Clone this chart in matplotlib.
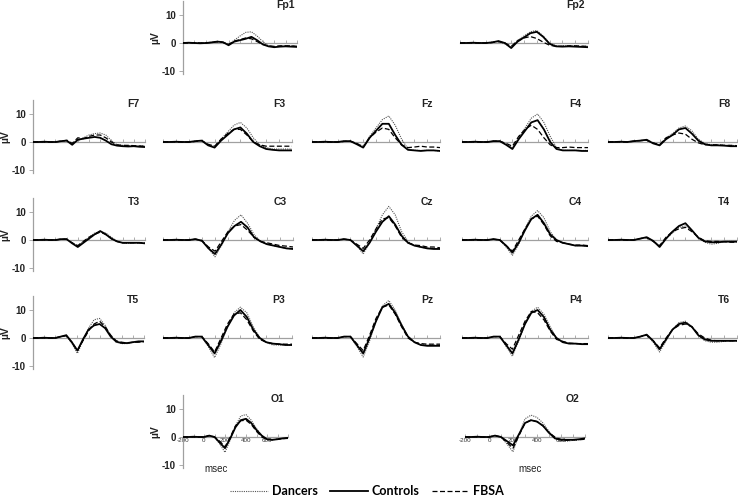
import numpy as np
import matplotlib.pyplot as plt
from matplotlib.lines import Line2D

plt.rcParams['font.family'] = ['Liberation Sans', 'DejaVu Sans']

# time axis (msec)
t = [-200, -150, -100, -50, 0, 50, 100, 150, 200, 250, 300,
     350, 400, 450, 500, 550, 600, 650, 700, 750, 800]

# ERP amplitudes (uV): dancers / controls / FBSA
fp1_dan = [0, 0.1, -0.1, 0.1, 0, 0.3, 0.5, 0.3, -0.5, 1, 2.5, 3.8, 4, 2.5, 0.5, -1, -1.3, -1.2, -1, -1, -1.2]
fp1_con = [0, 0.1, 0, -0.1, 0, 0.2, 0.5, 0.3, -0.8, 0.5, 1, 1.5, 2.2, 1, -0.5, -1.2, -1.5, -1.3, -1.2, -1.3, -1.4]
fp1_fb = [0, 0, 0.1, 0, 0, 0.2, 0.4, 0.2, -0.5, 0.7, 1.2, 1.8, 1.5, 0.5, -0.5, -1, -1.2, -1, -1, -1, -1.2]

fp2_dan = [0, 0.1, 0, 0.1, 0, 0.3, 0.5, -0.3, -1.5, 1, 2.5, 4, 4.5, 2.5, 0, -1, -1, -1, -1, -1.2, -1.2]
fp2_con = [0, 0, 0.1, 0, 0, 0.2, 0.7, 0, -1.8, 0.5, 2, 3.5, 4, 2.2, -0.3, -1.2, -1.3, -1.2, -1.3, -1.4, -1.5]
fp2_fb = [0, 0.1, 0, 0, 0, 0.2, 0.5, 0, -1.2, 0.8, 1.8, 2.3, 1.6, 0.3, -0.8, -1.2, -1.2, -1, -1, -1.1, -1.2]

f7_dan = [0, 0.1, 0, 0.1, 0, 0.3, 0.5, -0.3, 0.5, 1.5, 2.5, 3, 3.2, 2.5, 0.5, -1, -1.2, -1.3, -1.3, -1.4, -1.5]
f7_con = [0, 0, 0.1, 0, 0, 0.3, 0.5, -1, 0.8, 1.2, 1.5, 1.8, 1.5, 0.5, -0.8, -1.3, -1.5, -1.6, -1.5, -1.7, -1.8]
f7_fb = [0, 0.1, 0, 0, 0, 0.3, 0.6, -0.5, 1.5, 1.2, 2, 2.5, 2.5, 1.5, 0, -1, -1.2, -1.2, -1.3, -1.4, -1.5]

f3_dan = [0, 0.1, 0, 0.1, 0, 0.3, 0.5, -1, -1.5, 1, 3.5, 6, 7, 5, 1.5, -1, -2, -2.5, -2.5, -2.5, -2.5]
f3_con = [0, 0, 0.1, 0, 0, 0.3, 0.5, -1.2, -2, 0.5, 2.5, 4.5, 5.2, 3, 0, -1.5, -2.5, -2.8, -3, -3, -3]
f3_fb = [0, 0.1, 0, 0, 0, 0.2, 0.5, -0.8, -1.5, 1, 3, 4.5, 4.5, 2.5, 0, -1, -1.5, -1.5, -1.5, -1.5, -1.5]

fz_dan = [0, 0.1, -0.1, 0.1, 0, 0.3, 0.3, -0.5, -1.5, 2, 5, 8, 9.3, 6, 1, -2.5, -3, -3, -3, -3, -3.2]
fz_con = [0, 0, 0.1, 0, 0, 0.3, 0.3, -0.8, -2, 1.5, 4, 6.5, 6.5, 2.5, -1, -2.8, -3, -3.2, -3, -3, -3.2]
fz_fb = [0, 0.1, 0, 0, 0, 0.2, 0.3, -0.5, -1.8, 1.5, 3.5, 5, 4.5, 1.5, -1, -2, -1.8, -1.5, -1.8, -1.8, -2]

f4_dan = [0, 0.1, 0, 0.1, 0, 0.3, 0.3, -0.8, -2, 1.5, 5, 8.5, 10, 7, 2, -2, -3, -3, -3, -3, -3]
f4_con = [0, 0, 0.1, 0, 0, 0.3, 0.3, -1, -2.5, 1, 4, 7, 7.8, 4.5, 0, -2.5, -3, -3, -3, -3.2, -3.2]
f4_fb = [0, 0.1, 0, 0, 0, 0.3, 0.3, -0.5, -1.5, 2, 4.5, 6, 4.5, 1.5, -1, -2, -2, -1.8, -2, -2, -2]

f8_dan = [0, 0.1, 0, 0.1, 0.3, 0.5, 0.8, -0.3, -1, 1.5, 3, 5, 5.7, 4, 1, -0.5, -1, -1, -1.2, -1.2, -1.3]
f8_con = [0, 0, 0.1, 0, 0.3, 0.5, 0.8, -0.5, -1.2, 1, 2.5, 4.5, 5, 3, 0.5, -0.8, -1.2, -1.2, -1.3, -1.5, -1.5]
f8_fb = [0, 0.1, 0, 0, 0.3, 0.5, 0.6, -0.3, -1, 1.5, 2.5, 3.2, 2.8, 1, -0.3, -1, -1, -1, -1.2, -1.2, -1.3]

t3_dan = [0, 0.1, 0, 0.1, 0, 0.3, 0.3, -1, -2, -0.5, 1, 2.5, 3, 2.5, 1, -0.5, -1, -1.2, -1, -1, -1]
t3_con = [0, 0, 0.1, 0, 0, 0.3, 0.3, -1.2, -2.5, -1, 0.5, 2, 3.2, 2, 0.5, -0.5, -1, -1, -1, -1, -1.2]
t3_fb = [0, 0.1, 0, 0, 0, 0.3, 0.3, -1, -2, -0.5, 1, 2, 2.8, 2, 0.5, -0.5, -1, -1, -1, -1, -1]

c3_dan = [0, 0.1, 0, 0.1, 0, 0.3, 0, -3, -6, -2, 3, 7, 9, 6, 2, -0.5, -1.5, -2, -2.5, -3, -3.2]
c3_con = [0, 0, 0.1, 0, 0, 0.3, -0.3, -3, -5, -1.5, 2.5, 5, 6.5, 4.5, 1, -0.5, -1.5, -2, -2.5, -3, -3.2]
c3_fb = [0, 0.1, 0, 0, 0, 0.3, -0.3, -2.5, -4, -0.5, 3, 5, 5.5, 3.5, 1, -0.5, -1, -1.5, -2, -2.2, -2.5]

cz_dan = [0, 0.1, 0, 0.1, 0, 0.3, 0, -2, -5, -1, 4, 9, 12, 9, 3, -0.5, -2, -2.5, -3, -3, -3.2]
cz_con = [0, 0, 0.1, 0, 0, 0.3, 0, -2, -4, -1, 3, 6.5, 8.5, 5.5, 1.5, -1, -2, -2.5, -3, -3.2, -3.2]
cz_fb = [0, 0.1, 0, 0, 0, 0.3, 0, -1.5, -3, 0, 4, 7.5, 8, 5, 1, -1, -1.8, -2, -2.5, -2.5, -2.8]

c4_dan = [0, 0.1, 0, 0.1, 0, 0.3, 0, -2.5, -5.5, -1.5, 4, 8.5, 10.5, 8, 3, 0, -1, -1.5, -2, -2, -2.2]
c4_con = [0, 0, 0.1, 0, 0, 0.3, 0, -2, -4.5, -1, 3.5, 7.5, 9, 6, 2, 0, -1, -1.5, -2, -2, -2.2]
c4_fb = [0, 0.1, 0, 0, 0, 0.3, 0, -2, -4, 0, 4, 7.5, 8.5, 5.5, 1.5, -0.5, -1, -1.5, -1.8, -1.8, -2]

t4_dan = [0, 0.1, 0, 0.1, 0, 0.5, 1, -0.5, -2, 0.5, 2.5, 4.5, 5, 3.5, 1, -0.8, -1.5, -1.2, -0.5, -0.5, -0.5]
t4_con = [0, 0, 0.1, 0, 0, 0.5, 1, -0.3, -2.5, 0.5, 3, 5, 6, 3.5, 0.8, -0.5, -0.8, -0.8, -0.6, -0.6, -0.6]
t4_fb = [0, 0.1, 0, 0, 0, 0.5, 0.8, -0.5, -2, 1, 3, 4, 4.5, 3, 1, -0.3, -0.5, -0.5, -0.6, -0.8, -0.8]

t5_dan = [0, 0.1, 0, 0.1, 0, 0.5, 1, -2, -5.5, -1, 3.5, 6.5, 7, 4.5, 1, -1.5, -2, -2, -1.5, -1.5, -1.2]
t5_con = [0, 0, 0.1, 0, 0, 0.5, 1, -1.5, -4.5, -0.5, 3, 4.5, 5, 3.5, 0.5, -1.3, -1.8, -1.8, -1.5, -1.2, -1.2]
t5_fb = [0, 0.1, 0, 0, 0, 0.5, 0.8, -1.5, -4.5, -1, 2.5, 5, 6, 4, 1, -1, -1.5, -1.8, -1.5, -1.5, -1.3]

p3_dan = [0, 0.1, 0, 0.1, 0, 0.5, 0.5, -3, -7, -2, 4, 9, 11, 9, 4, 0, -1.5, -2.5, -2.5, -2.5, -2.5]
p3_con = [0, 0, 0.1, 0, 0, 0.5, 0.5, -2.5, -5.5, -1, 4, 8, 10, 7.5, 3, 0, -1.5, -2, -2.2, -2.5, -2.5]
p3_fb = [0, 0.1, 0, 0, 0, 0.5, 0.5, -2, -5, 0, 5, 8.5, 9, 6.5, 2.5, -0.5, -1.5, -2, -2.2, -2.2, -2.2]

pz_dan = [0, 0.1, 0, 0.1, 0, 0.5, 0.5, -3, -6.8, -1, 6, 11.5, 13.4, 10, 5, 0.5, -1.5, -2.5, -2.5, -2.5, -2.5]
pz_con = [0, 0, 0.1, 0, 0, 0.5, 0.5, -2.5, -5.5, 0, 6, 11, 12.2, 9, 4.5, 0.5, -1.5, -2.5, -2.8, -2.8, -2.8]
pz_fb = [0, 0.1, 0, 0, 0, 0.5, 0.5, -2, -4.5, 1, 7, 11, 11.8, 8.5, 4, 0, -1.5, -2, -2.2, -2.2, -2.2]

p4_dan = [0, 0.1, 0, 0.1, 0, 0.5, 0.5, -3, -6.5, -1, 5, 9.5, 11, 8.5, 4, 0, -1.5, -2, -2, -2, -2]
p4_con = [0, 0, 0.1, 0, 0, 0.5, 0.5, -2.5, -5.5, -0.5, 5, 9, 10, 7.5, 3, 0, -1.5, -2, -2, -2.2, -2.2]
p4_fb = [0, 0.1, 0, 0, 0, 0.5, 0.5, -2, -4, 1, 6, 9.5, 9, 6.5, 2.5, -0.5, -1.2, -1.8, -2, -2, -2]

t6_dan = [0, 0.1, 0, 0.1, 0, 0.5, 1.2, -1.5, -5, -1, 3, 5.5, 6, 4, 1, -1, -1.5, -1.5, -1.2, -1, -1]
t6_con = [0, 0, 0.1, 0, 0, 0.5, 1.2, -1, -4, -0.5, 3, 5, 5.5, 4, 1, -0.5, -1, -1, -1, -1, -1]
t6_fb = [0, 0.1, 0, 0, 0, 0.5, 1, -1, -3.5, 0, 3, 4.5, 5, 4, 1.5, 0, -0.8, -1, -1, -1, -1]

o1_dan = [0, 0.1, 0, 0.1, 0, 0.5, 0, -2.5, -5.5, -1, 4, 7.5, 8, 6, 3, 0.5, -1, -1, -0.8, -0.5, -0.3]
o1_con = [0, 0, 0.1, 0, 0, 0.5, 0, -2, -4, -0.5, 3.5, 6, 6.5, 5, 2.5, 0.5, -0.8, -1, -0.8, -0.5, -0.3]
o1_fb = [0, 0.1, 0, 0, 0, 0.5, 0, -1.5, -3.5, 0, 4, 5.8, 6, 4.5, 2, 0, -0.8, -1, -0.8, -0.6, -0.5]

o2_dan = [0, 0.1, 0, 0.1, 0, 0.5, 0, -2.5, -5.3, 1, 6.5, 7.8, 7, 5, 2, -0.5, -1.5, -1.5, -1.2, -1, -0.5]
o2_con = [0, 0, 0.1, 0, 0, 0.5, 0, -1.5, -3, 1, 5, 6, 5.5, 4, 1.5, -0.5, -1, -1, -1, -0.8, -0.5]
o2_fb = [0, 0.1, 0, 0, 0, 0.5, 0, -2, -4, 0.5, 5, 6, 5.5, 4, 1.5, 0, -1, -1.2, -1, -1, -0.8]

waves = {
    "Fp1": (fp1_dan, fp1_con, fp1_fb), "Fp2": (fp2_dan, fp2_con, fp2_fb),
    "F7": (f7_dan, f7_con, f7_fb), "F3": (f3_dan, f3_con, f3_fb),
    "Fz": (fz_dan, fz_con, fz_fb), "F4": (f4_dan, f4_con, f4_fb),
    "F8": (f8_dan, f8_con, f8_fb), "T3": (t3_dan, t3_con, t3_fb),
    "C3": (c3_dan, c3_con, c3_fb), "Cz": (cz_dan, cz_con, cz_fb),
    "C4": (c4_dan, c4_con, c4_fb), "T4": (t4_dan, t4_con, t4_fb),
    "T5": (t5_dan, t5_con, t5_fb), "P3": (p3_dan, p3_con, p3_fb),
    "Pz": (pz_dan, pz_con, pz_fb), "P4": (p4_dan, p4_con, p4_fb),
    "T6": (t6_dan, t6_con, t6_fb), "O1": (o1_dan, o1_con, o1_fb),
    "O2": (o2_dan, o2_con, o2_fb),
}

groups = ["Dancers", "Controls", "FBSA"]
styles = [dict(color="#555555", ls=(0, (1, 1)), lw=0.8),
          dict(color="black", ls="-", lw=1.3),
          dict(color="black", ls=(0, (4, 2)), lw=0.9)]

# panel layout in pixels: name, left, right, y of zero line, y axis shown, x labels shown
layout = [
    ("Fp1", 183, 297, 43, True, False), ("Fp2", 460, 588, 43, False, False),
    ("F7", 33, 145, 142, True, False), ("F3", 163, 292, 142, False, False),
    ("Fz", 312, 440, 142, False, False), ("F4", 462, 588, 142, False, False),
    ("F8", 608, 737, 142, False, False),
    ("T3", 33, 145, 240, True, False), ("C3", 163, 293, 240, False, False),
    ("Cz", 312, 440, 240, False, False), ("C4", 462, 588, 240, False, False),
    ("T4", 608, 737, 240, False, False),
    ("T5", 33, 144, 338, True, False), ("P3", 163, 292, 338, False, False),
    ("Pz", 312, 440, 338, False, False), ("P4", 462, 588, 338, False, False),
    ("T6", 608, 737, 338, False, False),
    ("O1", 183, 288, 437, True, True), ("O2", 465, 585, 437, False, True),
]

W, H = 738, 500
PX = 2.8  # pixels per uV
ylo, yhi = -11, 15

fig = plt.figure(figsize=(W / 100, H / 100), dpi=100)

for name, x0, x1, y0, yax, xlab in layout:
    bottom = 1 - (y0 - ylo * PX) / H
    height = (yhi - ylo) * PX / H
    ax = fig.add_axes([x0 / W, bottom, (x1 - x0) / W, height])
    ax.set_xlim(-200, 800)
    ax.set_ylim(ylo, yhi)
    ax.patch.set_visible(False)

    for vals, st in zip(waves[name], styles):
        ax.plot(t, vals, zorder=3, **st)

    ax.spines["top"].set_visible(False)
    ax.spines["right"].set_visible(False)
    ax.spines["bottom"].set_position(("data", 0))
    ax.spines["bottom"].set_color("#a0a0a0")
    ax.spines["bottom"].set_linewidth(0.9)
    ax.spines["bottom"].set_zorder(1)
    ax.set_xticks(np.arange(-200, 801, 100))
    if xlab:
        ax.set_xticklabels([str(v) if v % 200 == 0 and v < 800 else ""
                            for v in range(-200, 801, 100)])
        ax.tick_params(axis="x", labelsize=4.5, pad=1, labelcolor="#333333")
    else:
        ax.set_xticklabels([])
    ax.tick_params(axis="x", direction="in", length=2, width=0.6, color="#a0a0a0")

    if yax:
        ax.spines["left"].set_color("#a0a0a0")
        ax.spines["left"].set_linewidth(0.9)
        ax.set_yticks([-10, 0, 10])
        ax.set_yticklabels(["-10", "0", "10"], fontweight="bold")
        ax.tick_params(axis="y", labelsize=7, length=3, width=0.6,
                       color="#a0a0a0", labelcolor="#222222", pad=2)
        ax.set_ylabel("µV", fontsize=7.5, fontweight="bold", labelpad=1, color="#222222")
    else:
        ax.spines["left"].set_visible(False)
        ax.set_yticks([])

    ax.text(700, 13.5, name, ha="center", va="center", fontsize=7.5,
            fontweight="bold", color="#222222")

fig.text(216 / W, 1 - 469 / H, "msec", ha="center", va="center", fontsize=7, color="#222222")
fig.text(530 / W, 1 - 469 / H, "msec", ha="center", va="center", fontsize=7, color="#222222")

handles = [Line2D([], [], **st) for st in styles]
fig.legend(handles, groups, loc="center", bbox_to_anchor=(367 / W, 1 - 491 / H),
           ncol=3, frameon=False, handlelength=3.0, columnspacing=1.0, handletextpad=0.3,
           prop={"family": ["Lato", "DejaVu Sans"], "weight": "bold", "size": 9})

fig.savefig("out.png", dpi=100)
